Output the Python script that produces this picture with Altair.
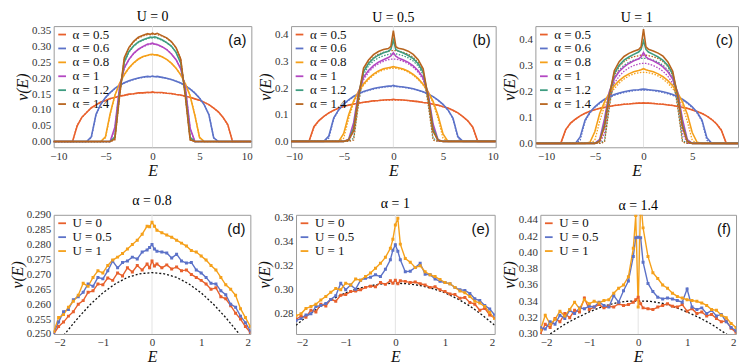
import altair as alt
import pandas as pd

# ---------------- top row data (E grid shared by all top curves) ----------------
ET = [-11, -10.5, -10, -9.5, -9, -8.5, -8, -7.5, -7, -6.5, -6, -5.5, -5, -4.5, -4, -3.5, -3,
      -2.5, -2, -1.5, -1, -0.5, -0.25, 0, 0.25, 0.5, 1, 1.5, 2, 2.5, 3, 3.5, 4, 4.5, 5, 5.5,
      6, 6.5, 7, 7.5, 8, 8.5, 9, 9.5, 10, 10.5]

ALPHA_LABELS = ["α = 0.5", "α = 0.6", "α = 0.8", "α = 1", "α = 1.2", "α = 1.4"]
ALPHA_COLORS = ["#E8602C", "#5C72C8", "#F5A01A", "#B347C2", "#3E9C80", "#B8641E"]

# dotted reference curves (same in panels a, b, c)
T05 = [0,0,0,0,0,0,.052,.076,.093,.106,.116,.124,.130,.135,.139,.143,.146,.149,.151,.153,.154,.155,.155,.155,.155,.155,.154,.153,.151,.149,.146,.143,.139,.135,.130,.124,.116,.106,.093,.076,.052,0,0,0,0,0]
T06 = [0,0,0,0,0,0,0,0,0,.012,.085,.117,.138,.154,.167,.177,.185,.191,.196,.200,.203,.205,.205,.205,.205,.205,.203,.200,.196,.191,.185,.177,.167,.154,.138,.117,.085,.012,0,0,0,0,0,0,0,0]
T08 = [0,0,0,0,0,0,0,0,0,0,0,0,.012,.085,.145,.183,.211,.232,.248,.260,.268,.272,.274,.274,.274,.272,.268,.260,.248,.232,.211,.183,.145,.085,.012,0,0,0,0,0,0,0,0,0,0,0]
T10 = [0,0,0,0,0,0,0,0,0,0,0,0,0,0,.040,.170,.231,.259,.278,.291,.300,.306,.308,.308,.308,.306,.300,.291,.278,.259,.231,.170,.040,0,0,0,0,0,0,0,0,0,0,0,0,0]
T12 = [0,0,0,0,0,0,0,0,0,0,0,0,0,0,.012,.150,.250,.283,.301,.313,.321,.326,.328,.328,.328,.326,.321,.313,.301,.283,.250,.150,.012,0,0,0,0,0,0,0,0,0,0,0,0,0]
T14 = [0,0,0,0,0,0,0,0,0,0,0,0,0,0,.005,.140,.262,.296,.315,.327,.334,.338,.340,.340,.340,.338,.334,.327,.315,.296,.262,.140,.005,0,0,0,0,0,0,0,0,0,0,0,0,0]

# panel (a) U = 0
SA05 = [0,0,0,0,0,0,.050,.077,.092,.107,.116,.125,.130,.136,.139,.144,.146,.150,.151,.154,.154,.156,.155,.157,.155,.155,.155,.153,.152,.149,.147,.143,.140,.135,.131,.124,.117,.106,.094,.076,.054,0,0,0,0,0]
SA06 = [0,0,0,0,0,0,0,0,0,.015,.086,.118,.139,.155,.168,.178,.186,.192,.197,.201,.204,.206,.205,.207,.205,.206,.203,.200,.196,.191,.185,.176,.166,.153,.137,.116,.084,.012,0,0,0,0,0,0,0,0]
SA08 = [0,0,0,0,0,0,0,0,0,0,0,0,.015,.088,.146,.184,.212,.233,.249,.261,.269,.273,.275,.276,.274,.274,.268,.260,.248,.232,.211,.182,.144,.083,.013,0,0,0,0,0,0,0,0,0,0,0]
SA10 = [0,0,0,0,0,0,0,0,0,0,0,0,0,0,.045,.172,.233,.260,.279,.292,.301,.308,.309,.311,.308,.307,.300,.291,.277,.259,.230,.168,.042,0,0,0,0,0,0,0,0,0,0,0,0,0]
SA12 = [0,0,0,0,0,0,0,0,0,0,0,0,0,0,.015,.155,.252,.285,.303,.315,.322,.327,.330,.329,.331,.328,.322,.313,.302,.282,.248,.150,.013,0,0,0,0,0,0,0,0,0,0,0,0,0]
SA14 = [0,0,0,0,0,0,0,0,0,0,0,0,0,0,.008,.145,.265,.298,.317,.330,.336,.341,.338,.343,.339,.342,.335,.328,.316,.297,.260,.140,.006,0,0,0,0,0,0,0,0,0,0,0,0,0]

# panel (b) U = 0.5
SB05 = [0,0,0,0,0,0,.055,.078,.094,.107,.117,.125,.131,.136,.140,.143,.147,.149,.152,.153,.155,.156,.156,.158,.156,.156,.155,.153,.151,.149,.146,.144,.139,.136,.130,.125,.117,.107,.093,.077,.053,0,0,0,0,0]
SB06 = [0,0,0,0,0,0,0,0,0,.020,.088,.119,.140,.156,.169,.179,.187,.193,.198,.202,.205,.207,.207,.210,.207,.206,.204,.201,.197,.192,.186,.178,.168,.155,.139,.118,.087,.018,0,0,0,0,0,0,0,0]
SB08 = [0,0,0,0,0,0,0,0,0,0,0,0,.030,.100,.152,.188,.215,.236,.252,.264,.272,.276,.278,.280,.278,.276,.271,.263,.251,.235,.214,.186,.150,.097,.028,0,0,0,0,0,0,0,0,0,0,0]
SB10 = [0,0,0,0,0,0,0,0,0,0,0,0,0,.008,.070,.185,.240,.266,.284,.297,.306,.314,.320,.332,.319,.313,.305,.296,.283,.265,.238,.180,.065,.006,0,0,0,0,0,0,0,0,0,0,0,0]
SB12 = [0,0,0,0,0,0,0,0,0,0,0,0,0,.006,.050,.175,.262,.292,.311,.323,.332,.338,.345,.380,.344,.339,.331,.322,.310,.291,.260,.170,.048,.005,0,0,0,0,0,0,0,0,0,0,0,0]
SB14 = [0,0,0,0,0,0,0,0,0,0,0,0,0,.005,.040,.170,.275,.305,.325,.337,.344,.348,.356,.415,.355,.349,.345,.338,.326,.306,.272,.165,.038,.004,0,0,0,0,0,0,0,0,0,0,0,0]

# panel (c) U = 1
SC05 = [0,0,0,0,0,0,.052,.078,.093,.106,.116,.124,.130,.135,.139,.142,.146,.148,.151,.152,.154,.155,.155,.156,.155,.155,.154,.152,.151,.148,.146,.142,.139,.135,.129,.123,.115,.105,.092,.075,.050,0,0,0,0,0]
SC06 = [0,0,0,0,0,0,0,0,0,.025,.090,.120,.141,.157,.170,.180,.188,.194,.199,.203,.206,.207,.208,.209,.208,.207,.205,.203,.199,.194,.188,.180,.170,.157,.141,.120,.090,.022,0,0,0,0,0,0,0,0]
SC08 = [0,0,0,0,0,0,0,0,0,0,0,.004,.045,.115,.160,.195,.222,.242,.257,.268,.276,.281,.284,.288,.284,.281,.276,.268,.257,.242,.222,.195,.160,.112,.042,.004,0,0,0,0,0,0,0,0,0,0]
SC10 = [0,0,0,0,0,0,0,0,0,0,0,0,0,.015,.095,.200,.250,.277,.295,.308,.318,.326,.333,.350,.333,.326,.318,.308,.295,.276,.248,.198,.092,.014,0,0,0,0,0,0,0,0,0,0,0,0]
SC12 = [0,0,0,0,0,0,0,0,0,0,0,0,0,.010,.075,.190,.270,.301,.321,.333,.343,.352,.362,.395,.362,.352,.343,.333,.320,.300,.268,.188,.072,.009,0,0,0,0,0,0,0,0,0,0,0,0]
SC14 = [0,0,0,0,0,0,0,0,0,0,0,0,0,.008,.065,.185,.280,.315,.335,.347,.355,.362,.372,.440,.372,.363,.356,.348,.336,.314,.278,.182,.062,.007,0,0,0,0,0,0,0,0,0,0,0,0]

# ---------------- bottom row data ----------------
EB = [-2.0, -1.9, -1.8, -1.7, -1.6, -1.5, -1.4, -1.3, -1.2, -1.1, -1.0, -0.9, -0.8, -0.7, -0.6,
      -0.5, -0.4, -0.3, -0.2, -0.1, -0.05, 0.0, 0.05, 0.1, 0.2, 0.3, 0.4, 0.5, 0.6, 0.7, 0.8,
      0.9, 1.0, 1.1, 1.2, 1.3, 1.4, 1.5, 1.6, 1.7, 1.8, 1.9, 2.0]
EBD = [-2, -1.75, -1.5, -1.25, -1, -0.75, -0.5, -0.25, 0, 0.25, 0.5, 0.75, 1, 1.25, 1.5, 1.75, 2]

U_LABELS = ["U = 0", "U = 0.5", "U = 1"]
U_COLORS = ["#E8602C", "#5C72C8", "#F5A01A"]

# panel (d) alpha = 0.8
D_U0 = [.2500,.2525,.2540,.2560,.2575,.2600,.2612,.2640,.2645,.2668,.2665,.2688,.2680,.2705,.2695,.2722,.2708,.2730,.2715,.2735,.2722,.2745,.2728,.2735,.2722,.2732,.2718,.2725,.2712,.2715,.2700,.2690,.2680,.2668,.2650,.2655,.2625,.2618,.2595,.2570,.2550,.2525,.2505]
D_U05 = [.2505,.2540,.2575,.2582,.2615,.2625,.2640,.2668,.2660,.2690,.2685,.2712,.2745,.2722,.2740,.2745,.2758,.2752,.2775,.2782,.2790,.2800,.2785,.2778,.2775,.2772,.2755,.2768,.2745,.2738,.2740,.2715,.2705,.2690,.2670,.2668,.2645,.2632,.2600,.2590,.2560,.2538,.2510]
D_U1 = [.2508,.2555,.2565,.2590,.2610,.2630,.2670,.2660,.2690,.2712,.2705,.2730,.2748,.2758,.2770,.2785,.2800,.2815,.2835,.2862,.2860,.2875,.2862,.2848,.2840,.2832,.2825,.2815,.2805,.2795,.2780,.2775,.2762,.2748,.2730,.2715,.2690,.2665,.2650,.2630,.2585,.2555,.2525]
D_TH = [.2455,.2505,.2555,.2600,.2638,.2668,.2690,.2702,.2706,.2702,.2690,.2668,.2638,.2600,.2555,.2505,.2455]

# panel (e) alpha = 1
E_U0 = [.2755,.2780,.2772,.2830,.2815,.2880,.2865,.2920,.2905,.2955,.2960,.2985,.2990,.3000,.3020,.3030,.3025,.3060,.3045,.3075,.3055,.3080,.3050,.3075,.3070,.3060,.3065,.3050,.3040,.3020,.3025,.3000,.2985,.2965,.2960,.2930,.2935,.2895,.2880,.2830,.2845,.2790,.2765]
E_U05 = [.2745,.2760,.2790,.2800,.2860,.2870,.2885,.2920,.2950,.3055,.3000,.3040,.3005,.3080,.3095,.3105,.3125,.3110,.3170,.3250,.3330,.3375,.3320,.3250,.3150,.3155,.3185,.3220,.3130,.3125,.3090,.3070,.3060,.3050,.3020,.3000,.2995,.2970,.2925,.2910,.2870,.2840,.2790]
E_U1 = [.2785,.2800,.2845,.2860,.2880,.2915,.2945,.2980,.3010,.3000,.3055,.3040,.3090,.3080,.3110,.3140,.3180,.3220,.3270,.3345,.3420,.3540,.3595,.3380,.3260,.3230,.3185,.3200,.3150,.3125,.3110,.3085,.3060,.3050,.3020,.2990,.2975,.2945,.2905,.2890,.2860,.2810,.2760]
E_TH = [.2705,.2790,.2865,.2925,.2975,.3010,.3035,.3050,.3055,.3050,.3035,.3010,.2975,.2925,.2865,.2790,.2705]

# panel (f) alpha = 1.4
F_U0 = [.3000,.3120,.3080,.3190,.3150,.3250,.3200,.3290,.3270,.3440,.3300,.3330,.3360,.3320,.3340,.3330,.3370,.3350,.3360,.3390,.3420,.3450,.3370,.3320,.3310,.3300,.3330,.3350,.3370,.3340,.3330,.3360,.3280,.3310,.3250,.3270,.3220,.3240,.3190,.3150,.3160,.3070,.3020]
F_U05 = [.3080,.3060,.3150,.3120,.3230,.3190,.3290,.3250,.3320,.3310,.3340,.3330,.3390,.3350,.3330,.3470,.3390,.3530,.3650,.3950,.4180,.4185,.4180,.3880,.3620,.3520,.3450,.3430,.3440,.3430,.3410,.3390,.3550,.3330,.3300,.3320,.3250,.3290,.3220,.3240,.3150,.3080,.3040]
F_U1 = [.3050,.3230,.3120,.3180,.3280,.3220,.3300,.3390,.3310,.3420,.3370,.3400,.3380,.3410,.3420,.3500,.3560,.3600,.3700,.4050,.4450,.3330,.4650,.4300,.3950,.3750,.3680,.3600,.3560,.3500,.3460,.3440,.3420,.3410,.3400,.3380,.3350,.3300,.3290,.3230,.3200,.3130,.3080]
F_TH = [.2920,.3020,.3120,.3200,.3270,.3330,.3375,.3400,.3405,.3400,.3375,.3330,.3270,.3200,.3120,.3020,.2920]

SERIF = "Liberation Serif"


def long_df(xs, labels, series):
    rows = []
    for lab, vals in zip(labels, series):
        for e, v in zip(xs, vals):
            rows.append({"E": e, "v": v, "s": lab})
    return pd.DataFrame(rows)


def panel(title, tag, xs, labels, colors, series, th_x, th_series, th_black,
          xdom, xvals, ydom, yvals, yfmt, width, height, points):
    x = alt.X("E:Q", scale=alt.Scale(domain=xdom, nice=False, zero=False),
              axis=alt.Axis(values=xvals, format="d", title="E"))
    y = alt.Y("v:Q", scale=alt.Scale(domain=ydom, nice=False, zero=False),
              axis=alt.Axis(values=yvals, format=yfmt, title="ν(E)"))
    legend = alt.Legend(title=None, orient="top-left", offset=2, padding=0,
                        labelFont=SERIF, labelFontSize=13, labelColor="#111",
                        symbolType="stroke", symbolSize=60, symbolStrokeWidth=1.8,
                        rowPadding=0, labelOffset=4)
    color = alt.Color("s:N", scale=alt.Scale(domain=labels, range=colors), legend=legend)

    zero = alt.Chart(pd.DataFrame({"E": [0]})).mark_rule(
        color="#e3e3e3", strokeWidth=1).encode(x=x)

    if th_black:
        th = alt.Chart(long_df(th_x, ["th"], th_series)).mark_line(
            color="#111", strokeDash=[2, 2], strokeWidth=1.3, clip=True).encode(x=x, y=y)
    else:
        th = alt.Chart(long_df(th_x, labels, th_series)).mark_line(
            strokeDash=[1.5, 1.5], strokeWidth=1.3, clip=True).encode(
            x=x, y=y,
            color=alt.Color("s:N", scale=alt.Scale(domain=labels, range=colors), legend=None))

    if points:
        mark = alt.Chart(long_df(xs, labels, series)).mark_line(
            strokeWidth=1.4, clip=True,
            point=alt.OverlayMarkDef(size=9, filled=True, shape="square", clip=True))
    else:
        mark = alt.Chart(long_df(xs, labels, series)).mark_line(strokeWidth=1.6, clip=True)
    solid = mark.encode(x=x, y=y, color=color)

    tagc = alt.Chart(pd.DataFrame({"t": [tag]})).mark_text(
        font="Liberation Sans", fontSize=15, align="right", baseline="middle",
        color="#111").encode(text="t:N", x=alt.value(width - 5), y=alt.value(14))

    return alt.layer(zero, th, solid, tagc).resolve_scale(color="independent").properties(
        width=width, height=height, title=alt.TitleParams(title, fontSize=14, font=SERIF,
                                                          fontWeight="normal", offset=1))


TOPH = 122
BOTH = 120
TOP_Y = [0, .05, .1, .15, .2, .25, .3, .35]
TOP_Y2 = [0, .1, .2, .3, .4]
THEORY = [T05, T06, T08, T10, T12, T14]

pa = panel("U = 0", "(a)", ET, ALPHA_LABELS, ALPHA_COLORS, [SA05, SA06, SA08, SA10, SA12, SA14],
           ET, THEORY, False, [-10.5, 10.5], [-10, -5, 0, 5, 10], [-0.018, 0.365], TOP_Y, ".2f",
           199, TOPH, False)
pb = panel("U = 0.5", "(b)", ET, ALPHA_LABELS, ALPHA_COLORS, [SB05, SB06, SB08, SB10, SB12, SB14],
           ET, THEORY, False, [-10.3, 10.3], [-10, -5, 0, 5, 10], [-0.022, 0.432], TOP_Y2, ".1f",
           206, TOPH, False)
pc = panel("U = 1", "(c)", ET, ALPHA_LABELS, ALPHA_COLORS, [SC05, SC06, SC08, SC10, SC12, SC14],
           ET, THEORY, False, [-11.1, 9.7], [-10, -5, 0, 5], [-0.015, 0.452], TOP_Y2, ".1f",
           204, TOPH, False)

pd_ = panel("α = 0.8", "(d)", EB, U_LABELS, U_COLORS, [D_U0, D_U05, D_U1],
            EBD, [D_TH], True, [-2, 2], [-2, -1, 0, 1, 2], [0.25, 0.29],
            [.25, .255, .26, .265, .27, .275, .28, .285, .29], ".3f", 198, BOTH, True)
pe = panel("α = 1", "(e)", EB, U_LABELS, U_COLORS, [E_U0, E_U05, E_U1],
           EBD, [E_TH], True, [-2, 2], [-2, -1, 0, 1, 2], [0.2632, 0.3624],
           [.28, .30, .32, .34, .36], ".2f", 200, BOTH, True)
pf = panel("α = 1.4", "(f)", EB, U_LABELS, U_COLORS, [F_U0, F_U05, F_U1],
           EBD, [F_TH], True, [-2, 2], [-2, -1, 0, 1, 2], [0.30, 0.446],
           [.30, .32, .34, .36, .38, .40, .42, .44], ".2f", 197, BOTH, True)

top = alt.hconcat(pa, pb, pc, spacing=40, bounds="flush").resolve_scale(color="independent")
bottom = alt.hconcat(pd_, pe, pf, spacing=46, bounds="flush").resolve_scale(color="independent")

chart = alt.vconcat(top, bottom, spacing=14).resolve_scale(
    color="independent").properties(padding=0).configure_view(
    stroke="#9a9a9a", strokeWidth=1).configure_axis(
    labelFont=SERIF, labelFontSize=11, labelColor="#333", ticks=False, domain=False,
    grid=False, labelPadding=3, titleFont=SERIF, titleFontStyle="italic",
    titleFontSize=16, titleFontWeight="normal", titleColor="#111", titlePadding=1)

chart.save("out.html", embed_options={"renderer": "svg", "actions": False})
